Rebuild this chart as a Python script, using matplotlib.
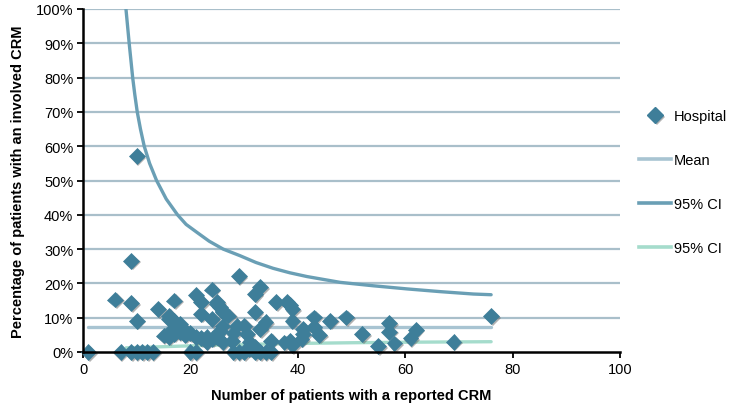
import matplotlib
matplotlib.use("Agg")
import matplotlib.pyplot as plt
import matplotlib.patheffects as pe
from matplotlib.lines import Line2D
from matplotlib.ticker import FuncFormatter

plt.rcParams['font.family'] = ['Liberation Sans', 'DejaVu Sans']

# Hospital-level data: patients with a reported CRM vs % with an involved CRM
hosp_n = [1, 7, 9, 10, 11, 12, 13, 20, 21, 28, 29, 30, 32, 33, 34, 35,
          10, 9, 29, 6, 9, 10, 14, 17, 21, 22, 24, 22, 16, 18, 16, 15, 16,
          17, 18, 19, 17, 18, 19, 20, 16, 17,
          25, 25.5, 26, 26, 27, 25, 26, 28.6, 25.5, 21, 22, 23, 24, 25,
          27.7, 28, 26, 24, 23,
          33, 32, 32, 36, 38, 38.5, 39, 39, 34, 33, 30, 30.5, 31, 31, 32,
          35, 37.5, 38.5, 39, 40.7, 41, 41, 43, 43, 44, 46, 49, 52, 55,
          57, 57, 58, 61, 62, 69, 76]
hosp_pct = [0, 0, 0, 0, 0, 0, 0, 0, 0, 0, 0, 0, 0, 0, 0, 0,
            57.1, 26.6, 22.1, 15.3, 14.2, 9.1, 12.5, 15.0, 16.6, 14.5, 18.2, 11.1, 9.6, 8.2, 5.7, 4.8, 4.4,
            5.3, 5.8, 5.0, 6.5, 7.0, 6.2, 5.5, 10.6, 9.0,
            14.5, 13.0, 11.6, 12.0, 10.6, 13.9, 7.7, 7.7, 6.2, 4.3, 4.0, 4.4, 3.8, 4.2,
            3.3, 5.5, 2.8, 9.6, 3.0,
            18.9, 16.9, 11.6, 14.5, 14.5, 13.8, 12.5, 9.1, 8.7, 6.7, 7.7, 5.2, 3.0, 0.9, 1.4,
            3.3, 2.8, 3.3, 2.0, 3.8, 6.7, 5.2, 10.1, 7.2, 5.0, 9.1, 10.1, 5.2, 1.7,
            8.5, 5.9, 2.5, 4.0, 6.5, 3.0, 10.4]

# Overall mean
mean_n = [1, 76]
mean_pct = [7.2, 7.2]

# Upper control limit
upper_n = [8.0, 8.3, 8.6, 8.9, 9.25, 9.65, 10.1, 10.7, 11.4, 12.4, 13.7, 15.5,
           17.6, 19.2, 21.2, 23.5, 26.1, 29.2, 32.2, 35.4, 38.5, 41.7, 47.9,
           54.1, 60.3, 66.5, 72.7, 76]
upper_pct = [100, 95, 90, 85.4, 80, 75, 70, 65, 60, 55, 50, 44.6,
             40, 37.2, 34.9, 32.3, 30, 28.1, 26.1, 24.4, 23.1, 22.0, 20.3,
             19.3, 18.4, 17.6, 16.9, 16.7]

# Lower control limit
lower_n = [8, 12, 16, 20, 30, 40, 50, 60, 76]
lower_pct = [1.2, 1.4, 1.6, 1.8, 2.2, 2.5, 2.7, 2.85, 3.0]

x_ticks = [0, 20, 40, 60, 80, 100]
y_ticks = [0, 10, 20, 30, 40, 50, 60, 70, 80, 90, 100]

c_marker = '#3E7E99'
c_mean = '#A8C4D2'
c_upper = '#6A9FB5'
c_lower = '#A5DCCC'
c_grid = '#A9BFCA'

fig = plt.figure(figsize=(7.33, 4.10), dpi=100)
ax = fig.add_axes([83 / 733, 1 - 353 / 410, (620 - 83) / 733, (353 - 10) / 410])

for y in y_ticks[1:]:
    ax.axhline(y, color=c_grid, lw=1.6, zorder=1)

ax.plot(mean_n, mean_pct, color=c_mean, lw=2.4, solid_capstyle='round', zorder=2)
ax.plot(upper_n, upper_pct, color=c_upper, lw=2.4, solid_capstyle='round',
        solid_joinstyle='round', zorder=2)
ax.plot(lower_n, lower_pct, color=c_lower, lw=2.4, solid_capstyle='round', zorder=2)

shadow = [pe.SimplePatchShadow(offset=(1.2, -1.2), shadow_rgbFace='#555555', alpha=0.45), pe.Normal()]
ax.plot(hosp_n, hosp_pct, linestyle='none', marker='D', markersize=8,
        markerfacecolor=c_marker, markeredgecolor=c_marker, markeredgewidth=0.5,
        zorder=3, clip_on=False, path_effects=shadow)

ax.set_xlim(0, 100)
ax.set_ylim(0, 100)
ax.set_xticks(x_ticks)
ax.set_yticks(y_ticks)
ax.yaxis.set_major_formatter(FuncFormatter(lambda v, p: f"{int(v)}%"))
ax.tick_params(axis='both', labelsize=10.5, colors='black', direction='out',
               length=4, width=1.3, pad=3)

for side in ('top', 'right'):
    ax.spines[side].set_visible(False)
for side in ('left', 'bottom'):
    ax.spines[side].set_linewidth(1.8)
    ax.spines[side].set_color('black')
    ax.spines[side].set_zorder(4)

ax.set_xlabel('Number of patients with a reported CRM', fontsize=10.5, fontweight='bold', labelpad=9)
ax.set_ylabel('Percentage of patients with an involved CRM', fontsize=10.5, fontweight='bold', labelpad=8)

handles = [
    Line2D([], [], linestyle='none', marker='D', markersize=8, color=c_marker, path_effects=shadow),
    Line2D([], [], color=c_mean, lw=2.6),
    Line2D([], [], color=c_upper, lw=2.6),
    Line2D([], [], color=c_lower, lw=2.6),
]
labels = ['Hospital', 'Mean', '95% CI', '95% CI']
fig.legend(handles, labels, loc='center left', bbox_to_anchor=(632 / 733, 1 - 183 / 410),
           frameon=False, fontsize=10.5, handlelength=2.2, handletextpad=0.15,
           labelspacing=2.05, borderpad=0)

fig.savefig('out.png', dpi=100)
